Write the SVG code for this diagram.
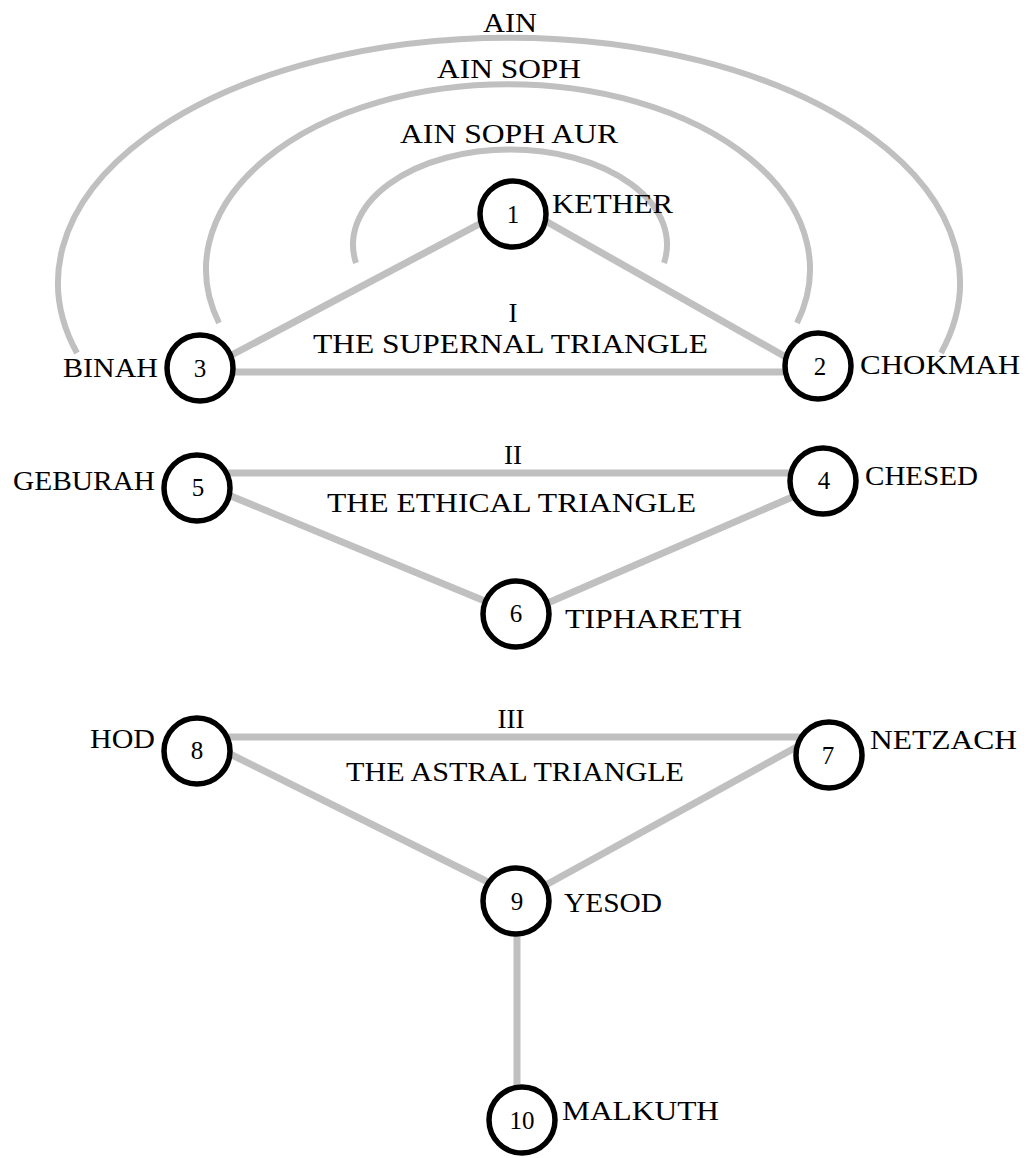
<svg xmlns="http://www.w3.org/2000/svg" width="1028" height="1158" viewBox="0 0 1028 1158">
<style>
.arc{fill:none;stroke:#c0c0c0;stroke-width:6}
.ln{stroke:#c0c0c0;stroke-width:7;fill:none}
.nd{fill:#fff;stroke:#000;stroke-width:5.5}
.t{font-family:"Liberation Serif","Times New Roman",serif;font-size:27px;fill:#000}
.n{font-family:"Liberation Serif","Times New Roman",serif;font-size:25px;fill:#000;text-anchor:middle}
.c{text-anchor:middle}
.e{text-anchor:end}
</style>
<rect width="1028" height="1158" fill="#fff"/>
<g id="arcs">
<path class="arc" d="M 77 353 A 451 245 0 1 1 941 353"/>
<path class="arc" d="M 219 323 A 302 185 0 1 1 797 323"/>
<path class="arc" d="M 356 263 A 157 95 0 1 1 664 263"/>
</g>
<g id="connectors">
<line class="ln" x1="485" y1="221" x2="226" y2="358"/>
<line class="ln" x1="542" y1="219" x2="791" y2="360"/>
<line class="ln" x1="225" y1="372" x2="792" y2="372"/>
<line class="ln" x1="222" y1="473" x2="797" y2="473"/>
<line class="ln" x1="226" y1="494" x2="492" y2="604"/>
<line class="ln" x1="797" y1="495" x2="543" y2="605"/>
<line class="ln" x1="222" y1="737" x2="804" y2="737"/>
<line class="ln" x1="222" y1="750" x2="492" y2="884"/>
<line class="ln" x1="802" y1="744" x2="544" y2="886"/>
<line class="ln" x1="517" y1="930" x2="517" y2="1090"/>
</g>
<g id="labels">
<text class="t" x="483" y="32" textLength="54" lengthAdjust="spacingAndGlyphs">AIN</text>
<text class="t" x="437" y="78" textLength="144" lengthAdjust="spacingAndGlyphs">AIN SOPH</text>
<text class="t" x="400" y="143" textLength="218" lengthAdjust="spacingAndGlyphs">AIN SOPH AUR</text>
<text class="t c" x="513" y="322">I</text>
<text class="t" x="313" y="353" textLength="395" lengthAdjust="spacingAndGlyphs">THE SUPERNAL TRIANGLE</text>
<text class="t c" x="513" y="464">II</text>
<text class="t" x="327" y="512" textLength="369" lengthAdjust="spacingAndGlyphs">THE ETHICAL TRIANGLE</text>
<text class="t c" x="511" y="728">III</text>
<text class="t" x="346" y="781" textLength="338" lengthAdjust="spacingAndGlyphs">THE ASTRAL TRIANGLE</text>
</g>
<g id="node-1"><circle class="nd" cx="513" cy="214" r="33"/><text class="n" x="513" y="223">1</text><text class="t" x="552" y="213" textLength="121" lengthAdjust="spacingAndGlyphs">KETHER</text></g>
<g id="node-2"><circle class="nd" cx="818" cy="366" r="33"/><text class="n" x="820" y="375">2</text><text class="t" x="860" y="374" textLength="160" lengthAdjust="spacingAndGlyphs">CHOKMAH</text></g>
<g id="node-3"><circle class="nd" cx="200" cy="368" r="33"/><text class="n" x="200" y="377">3</text><text class="t" x="63" y="377" textLength="95" lengthAdjust="spacingAndGlyphs">BINAH</text></g>
<g id="node-4"><circle class="nd" cx="823" cy="481" r="33"/><text class="n" x="824" y="489">4</text><text class="t" x="865" y="485" textLength="113" lengthAdjust="spacingAndGlyphs">CHESED</text></g>
<g id="node-5"><circle class="nd" cx="197" cy="488" r="33"/><text class="n" x="198" y="496">5</text><text class="t" x="13" y="490" textLength="142" lengthAdjust="spacingAndGlyphs">GEBURAH</text></g>
<g id="node-6"><circle class="nd" cx="516" cy="614" r="33"/><text class="n" x="516" y="622">6</text><text class="t" x="565" y="628" textLength="177" lengthAdjust="spacingAndGlyphs">TIPHARETH</text></g>
<g id="node-7"><circle class="nd" cx="829" cy="755" r="33"/><text class="n" x="828" y="764">7</text><text class="t" x="870" y="749" textLength="147" lengthAdjust="spacingAndGlyphs">NETZACH</text></g>
<g id="node-8"><circle class="nd" cx="197" cy="751" r="33"/><text class="n" x="197" y="759">8</text><text class="t" x="90" y="748" textLength="65" lengthAdjust="spacingAndGlyphs">HOD</text></g>
<g id="node-9"><circle class="nd" cx="516" cy="901" r="33"/><text class="n" x="517" y="910">9</text><text class="t" x="564" y="912" textLength="98" lengthAdjust="spacingAndGlyphs">YESOD</text></g>
<g id="node-10"><circle class="nd" cx="522" cy="1120" r="33"/><text class="n" x="522" y="1129">10</text><text class="t" x="562" y="1120" textLength="157" lengthAdjust="spacingAndGlyphs">MALKUTH</text></g>
</svg>
